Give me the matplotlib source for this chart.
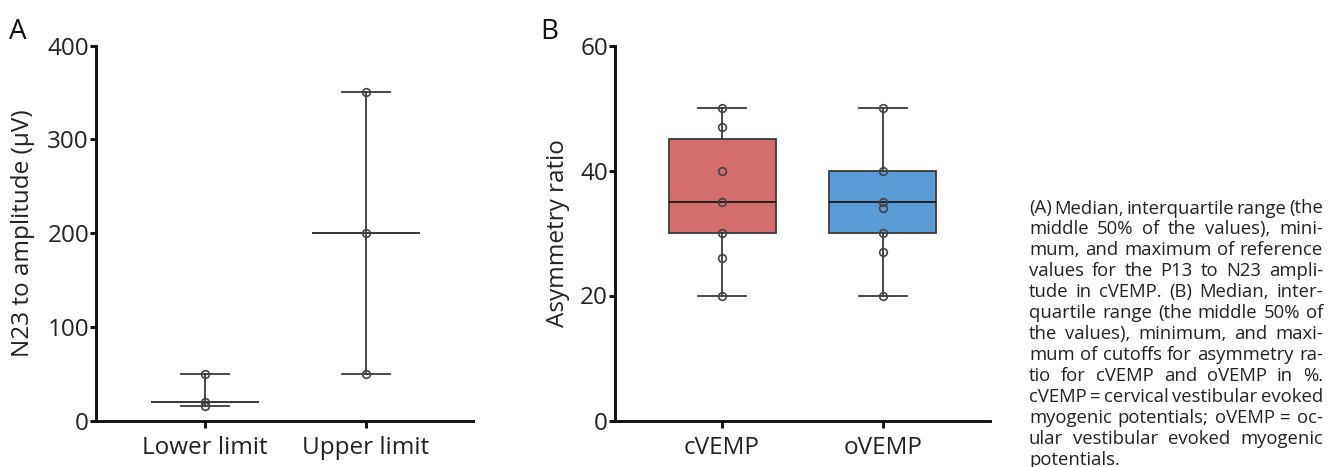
import numpy as np
import matplotlib
matplotlib.use('Agg')
import matplotlib.pyplot as plt

plt.rcParams['font.family'] = ['Open Sans', 'DejaVu Sans']

# Panel A: reference values for the P13 to N23 amplitude
cat_a = ['Lower limit', 'Upper limit']
pts_a = [[50, 20, 16], [350, 200, 50]]
med_a = [20, 200]
low_a = [16, 50]
high_a = [50, 350]

# Panel B: asymmetry ratio cutoffs
cat_b = ['cVEMP', 'oVEMP']
pts_b = [[50, 47, 40, 35, 30, 26, 20], [50, 40, 35, 34, 30, 27, 20]]
med_b = [35, 35]
q1_b = [30, 30]
q3_b = [45, 40]
low_b = [20, 20]
high_b = [50, 50]
colors_b = ['#d46e6c', '#5b9bd6']

caption_lines = [
    '(A) Median, interquartile range (the',
    'middle 50% of the values), mini-',
    'mum, and maximum of reference',
    'values for the P13 to N23 ampli-',
    'tude in cVEMP. (B) Median, inter-',
    'quartile range (the middle 50% of',
    'the values), minimum, and maxi-',
    'mum of cutoffs for asymmetry ra-',
    'tio for cVEMP and oVEMP in %.',
    'cVEMP = cervical vestibular evoked',
    'myogenic potentials; oVEMP = oc-',
    'ular vestibular evoked myogenic',
    'potentials.',
]

W, H = 1338, 467
fig = plt.figure(figsize=(W / 100, H / 100), dpi=100)
ax_a = fig.add_axes([96 / W, 46.5 / H, 377 / W, 375 / H])
ax_b = fig.add_axes([615 / W, 46.5 / H, 375 / W, 375 / H])

line_col = '#3a3a3a'
lw = 1.3


def style_axes(ax):
    for s in ['top', 'right']:
        ax.spines[s].set_visible(False)
    for s in ['left', 'bottom']:
        ax.spines[s].set_linewidth(2.1)
        ax.spines[s].set_color('#111111')
    ax.tick_params(axis='both', width=2.1, length=4, color='#111111',
                   labelsize=17.5, labelcolor='#222222', pad=1)
    ax.tick_params(axis='x', length=5, pad=6)


def draw_points(ax, groups):
    for i, vals in enumerate(groups):
        ax.plot(np.full(len(vals), i), vals, 'o', ms=5.5, mfc='none',
                mec='#444444', mew=1.2, zorder=5)


# Panel A
stats_a = []
for i in range(len(cat_a)):
    stats_a.append(dict(med=med_a[i], q1=med_a[i], q3=med_a[i],
                        whislo=low_a[i], whishi=high_a[i], fliers=[]))
ax_a.bxp(stats_a, positions=range(len(cat_a)), widths=0.66,
         showfliers=False, manage_ticks=False,
         boxprops=dict(color=line_col, lw=lw),
         medianprops=dict(color=line_col, lw=lw),
         whiskerprops=dict(color=line_col, lw=lw),
         capprops=dict(color=line_col, lw=lw), capwidths=0.3)
draw_points(ax_a, pts_a)
ax_a.set_xlim(-0.675, 1.665)
ax_a.set_ylim(0, 400)
ax_a.set_yticks([0, 100, 200, 300, 400])
ax_a.set_xticks(range(len(cat_a)))
ax_a.set_xticklabels(cat_a)
ax_a.set_ylabel('N23 to amplitude (µV)', fontsize=17.5, color='#222222')
ax_a.yaxis.set_label_coords(-0.163, 0.5)
style_axes(ax_a)

# Panel B
stats_b = []
for i in range(len(cat_b)):
    stats_b.append(dict(med=med_b[i], q1=q1_b[i], q3=q3_b[i],
                        whislo=low_b[i], whishi=high_b[i], fliers=[]))
bp = ax_b.bxp(stats_b, positions=range(len(cat_b)), widths=0.665,
              patch_artist=True, showfliers=False, manage_ticks=False,
              boxprops=dict(edgecolor=line_col, lw=lw),
              medianprops=dict(color='#1a1a1a', lw=lw),
              whiskerprops=dict(color=line_col, lw=lw),
              capprops=dict(color=line_col, lw=lw), capwidths=0.3)
for patch, c in zip(bp['boxes'], colors_b):
    patch.set_facecolor(c)
draw_points(ax_b, pts_b)
ax_b.set_xlim(-0.665, 1.665)
ax_b.set_ylim(0, 60)
ax_b.set_yticks([0, 20, 40, 60])
ax_b.set_xticks(range(len(cat_b)))
ax_b.set_xticklabels(cat_b)
ax_b.set_ylabel('Asymmetry ratio', fontsize=17.5, color='#222222')
ax_b.yaxis.set_label_coords(-0.12, 0.5)
style_axes(ax_b)

# panel letters
fig.text(9 / W, 1 - 39 / H, 'A', fontsize=20, color='#111111')
fig.text(540 / W, 1 - 39 / H, 'B', fontsize=20, color='#111111')

# justified caption
fig.canvas.draw()
renderer = fig.canvas.get_renderer()
x0, x1 = 1029, 1323
y_first, y_step = 208.5, 20.97
cap_kw = dict(fontsize=13.3, color='#222222', va='center', ha='left')
for n, line in enumerate(caption_lines):
    y = 1 - (y_first + n * y_step) / H
    words = line.split(' ')
    if n == len(caption_lines) - 1 or len(words) == 1:
        fig.text(x0 / W, y, line, **cap_kw)
        continue
    texts = [fig.text(0, y, w, **cap_kw) for w in words]
    widths = [t.get_window_extent(renderer).width for t in texts]
    gap = max((x1 - x0 - sum(widths)) / (len(words) - 1), 2)
    x = x0
    for t, wd in zip(texts, widths):
        t.set_x(x / W)
        x += wd + gap

fig.savefig('out.png', dpi=100)
